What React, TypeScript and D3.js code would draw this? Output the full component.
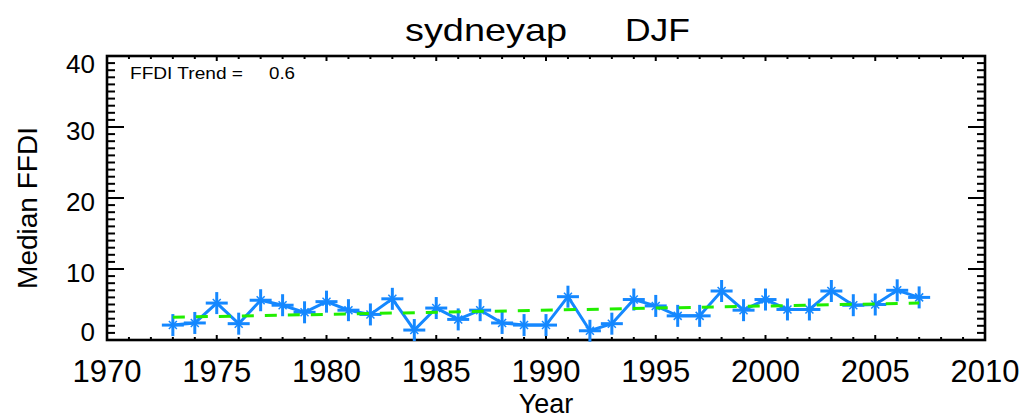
import React from "react";
import * as d3 from "d3";

const years: number[] = [
  1973, 1974, 1975, 1976, 1977, 1978, 1979, 1980, 1981, 1982, 1983, 1984,
  1985, 1986, 1987, 1988, 1989, 1990, 1991, 1992, 1993, 1994, 1995, 1996,
  1997, 1998, 1999, 2000, 2001, 2002, 2003, 2004, 2005, 2006, 2007,
];
const medianFFDI: number[] = [
  2.1, 2.4, 5.2, 2.3, 5.6, 4.9, 3.9, 5.4, 4.2, 3.6, 5.8, 1.4,
  4.5, 2.9, 4.2, 2.4, 2.1, 2.1, 6.1, 1.3, 2.3, 5.7, 4.8, 3.4,
  3.4, 6.9, 4.2, 5.7, 4.3, 4.3, 6.9, 4.9, 5.0, 7.0, 6.0,
];
const trendYears: number[] = [1973, 2007];
const trendValues: number[] = [3.2, 5.2];
const xTickLabels: number[] = [1970, 1975, 1980, 1985, 1990, 1995, 2000, 2005, 2010];
const yTickLabels: number[] = [0, 10, 20, 30, 40];
const titleParts: string[] = ["sydneyap", "DJF"];
const trendText = "FFDI Trend =";
const trendValueText = "0.6";

const W = 1026;
const H = 418;
const L = 107;
const R = 985;
const T = 56;
const B = 340;

const FONT = "'Liberation Sans', Arial, sans-serif";
const BLUE = "#1588ff";
const GREEN = "#22ee00";

export default function App() {
  const x = d3.scaleLinear().domain([1970, 2010]).range([L, R]);
  const y = d3.scaleLinear().domain([0, 40]).range([B, T]);

  const line = d3
    .line<[number, number]>()
    .x((d) => x(d[0]))
    .y((d) => y(d[1]));
  const pts: [number, number][] = years.map((yr, i) => [yr, medianFFDI[i]]);
  const trendPts: [number, number][] = trendYears.map((yr, i) => [yr, trendValues[i]]);

  const xMinor = d3.range(1970, 2011, 1);
  const yMinor = d3.range(0, 41, 1);

  return (
    <svg
      width={W}
      height={H}
      style={{ position: "absolute", left: 0, top: 0, background: "#fff" }}
    >
      <rect x={0} y={0} width={W} height={H} fill="#fff" />
      {/* title */}
      <text x={405} y={41} fontFamily={FONT} fontSize={32} textLength={162} lengthAdjust="spacingAndGlyphs" fill="#000">
        {titleParts[0]}
      </text>
      <text x={625} y={41} fontFamily={FONT} fontSize={32} textLength={65} lengthAdjust="spacingAndGlyphs" fill="#000">
        {titleParts[1]}
      </text>

      {/* ticks */}
      <g stroke="#000" strokeWidth={2}>
        {xMinor.map((v) => {
          const major = v % 5 === 0;
          const len = major ? 5 : 3;
          return (
            <g key={"xt" + v}>
              <line x1={x(v)} x2={x(v)} y1={B} y2={B - len} />
              <line x1={x(v)} x2={x(v)} y1={T} y2={T + len} />
            </g>
          );
        })}
        {yMinor.map((v) => {
          const major = v % 10 === 0;
          const len = major ? 17 : 8;
          return (
            <g key={"yt" + v}>
              <line x1={L} x2={L + len} y1={y(v)} y2={y(v)} />
              <line x1={R} x2={R - len} y1={y(v)} y2={y(v)} />
            </g>
          );
        })}
      </g>

      {/* frame */}
      <rect x={L} y={T} width={R - L} height={B - T} fill="none" stroke="#000" strokeWidth={2.6} />

      {/* x tick labels */}
      {xTickLabels.map((v) => (
        <text key={"xl" + v} x={x(v)} y={382} textAnchor="middle" fontFamily={FONT} fontSize={31} fill="#000">
          {v}
        </text>
      ))}
      {/* y tick labels */}
      {yTickLabels.map((v) => {
        const cy = Math.max(T + 8, Math.min(B - 8, y(v) + 4));
        return (
          <text key={"yl" + v} x={95} y={cy} dy="0.36em" textAnchor="end" fontFamily={FONT} fontSize={26} fill="#000">
            {v}
          </text>
        );
      })}

      {/* axis titles */}
      <text x={546} y={413} textAnchor="middle" fontFamily={FONT} fontSize={27} fill="#000">
        Year
      </text>
      <text
        transform={`translate(37,208) rotate(-90)`}
        textAnchor="middle"
        fontFamily={FONT}
        fontSize={28}
        fill="#000"
      >
        Median FFDI
      </text>

      {/* annotation */}
      <text x={130} y={79} fontFamily={FONT} fontSize={16} textLength={113} lengthAdjust="spacingAndGlyphs" fill="#000">
        {trendText}
      </text>
      <text x={269} y={79} fontFamily={FONT} fontSize={16} textLength={26} lengthAdjust="spacingAndGlyphs" fill="#000">
        {trendValueText}
      </text>

      {/* data line */}
      <path d={line(pts) || ""} fill="none" stroke={BLUE} strokeWidth={3} />
      <g stroke={BLUE} strokeWidth={3}>
        {pts.map((p, i) => {
          const cx = x(p[0]);
          const cy = y(p[1]);
          return (
            <g key={"m" + i}>
              <line x1={cx - 11} x2={cx + 11} y1={cy} y2={cy} />
              <line x1={cx} x2={cx} y1={cy - 11} y2={cy + 11} />
              <line x1={cx - 4} x2={cx + 4} y1={cy - 4} y2={cy + 4} strokeWidth={1.5} />
              <line x1={cx - 4} x2={cx + 4} y1={cy + 4} y2={cy - 4} strokeWidth={1.5} />
            </g>
          );
        })}
      </g>

      {/* trend line */}
      <path d={line(trendPts) || ""} fill="none" stroke={GREEN} strokeWidth={3} strokeDasharray="12 11" />
    </svg>
  );
}
